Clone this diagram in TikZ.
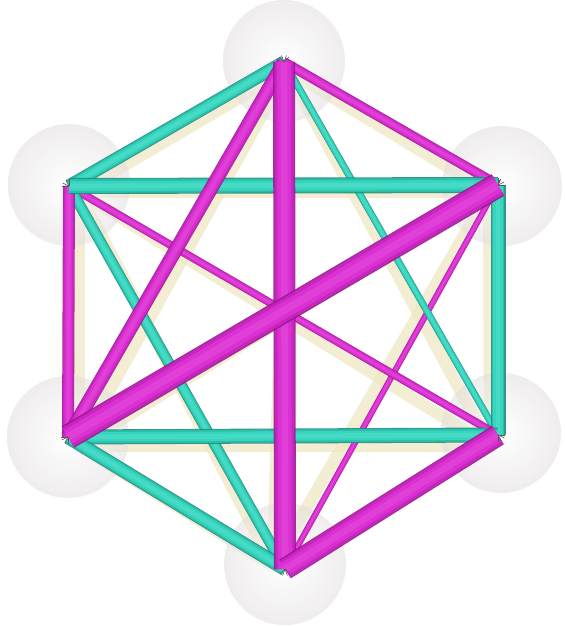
\documentclass[tikz,border=0pt]{standalone}
\usetikzlibrary{calc}
\definecolor{cyd}{HTML}{1B8E7F}
\definecolor{cym}{HTML}{2BC4AE}
\definecolor{cyn}{HTML}{3AD8C1}
\definecolor{cyl}{HTML}{5FE8D2}
\definecolor{mgd}{HTML}{9E1796}
\definecolor{mgm}{HTML}{CC27C3}
\definecolor{mgn}{HTML}{DE33D5}
\definecolor{mgl}{HTML}{EC5CE4}
\definecolor{ylw}{HTML}{EEE7C0}
\definecolor{sph}{HTML}{E2DDDD}
\tikzset{
  ybar/.style={line width=12pt, ylw, opacity=0.7},
  sphere/.style={inner color=white, outer color=sph, opacity=0.55},
  spike/.style={line width=0.6pt, black!65}
}
\newcommand\tubeline[4]{%
  \draw[line width={#4pt}, #3d, opacity=0.9] (#1) -- (#2);
  \draw[line width={0.86*#4pt}, #3m, opacity=0.9] (#1) -- (#2);
  \draw[line width={0.62*#4pt}, #3n, opacity=0.9] (#1) -- (#2);
  \draw[line width={0.3*#4pt}, #3l, opacity=0.35] (#1) -- (#2);
}
\newcommand\spikes[2]{%
  \foreach \a in {-45,-20,20,45}{\draw[spike] (#1) -- ++(#2+\a:7);}
}
\begin{document}
\begin{tikzpicture}[x=1pt,y=-1pt]
\useasboundingbox (0,0) rectangle (565,627);
% main vertices
\coordinate (T) at (284,62);
\coordinate (UL) at (69,186);
\coordinate (UR) at (498,185);
\coordinate (LL) at (68,437);
\coordinate (LR) at (498,435);
\coordinate (B) at (285,569);
% shadow vertices
\coordinate (Ty) at (287,70);
\coordinate (ULy) at (79,192);
\coordinate (URy) at (489,192);
\coordinate (LLy) at (79,446);
\coordinate (LRy) at (490,446);
\coordinate (By) at (273,566);
% pale yellow graph
\foreach \p/\q in {Ty/ULy,Ty/URy,Ty/LLy,Ty/LRy,Ty/By,ULy/URy,ULy/LLy,ULy/LRy,ULy/By,URy/LLy,URy/LRy,URy/By,LLy/LRy,LLy/By,LRy/By}
  \draw[ybar] (\p) -- (\q);
% spheres
\shade[sphere] (284,61) circle (61);
\shade[sphere] (69,185) circle (61);
\shade[sphere] (502,186) circle (60);
\shade[sphere] (68,437) circle (61);
\shade[sphere] (501,433) circle (60);
\shade[sphere] (285,564) circle (61);
% coloured edges
\tubeline{UR}{B}{mg}{6}
\tubeline{T}{LR}{cy}{7}
\tubeline{UL}{LR}{mg}{8}
\tubeline{T}{UR}{mg}{10}
\tubeline{UL}{B}{cy}{11}
\tubeline{UL}{LL}{mg}{12}
\tubeline{T}{UL}{cy}{13}
\tubeline{UL}{UR}{cy}{16}
\tubeline{UR}{LR}{cy}{15}
\tubeline{LL}{LR}{cy}{15}
\tubeline{LL}{B}{cy}{14}
\tubeline{T}{LL}{mg}{14}
\tubeline{T}{B}{mg}{22}
\tubeline{LR}{B}{mg}{22}
\tubeline{UR}{LL}{mg}{25}
% vertex marks
\spikes{T}{270}
\spikes{UL}{225}
\spikes{UR}{315}
\spikes{LL}{135}
\spikes{LR}{45}
\spikes{B}{90}
\end{tikzpicture}
\end{document}
